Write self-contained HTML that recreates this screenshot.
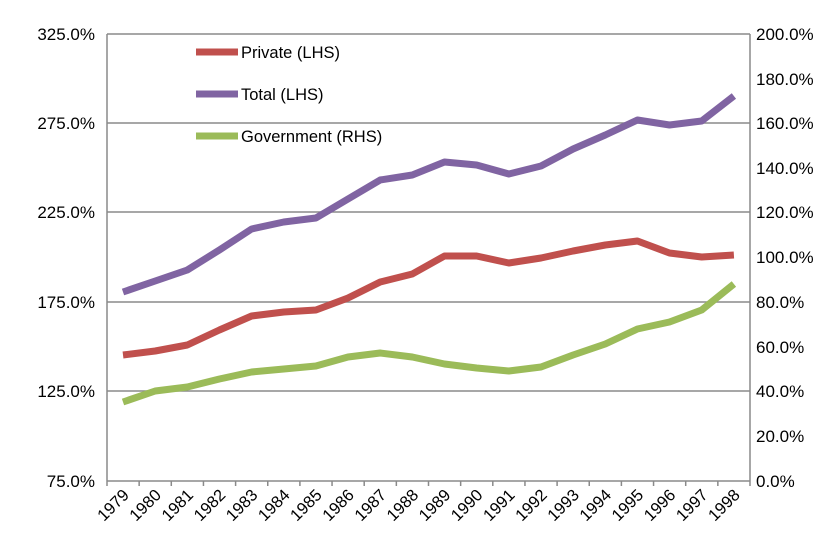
<!DOCTYPE html>
<html><head><style>body{margin:0;background:#fff}svg{display:block}</style></head><body>
<svg width="833" height="545" xmlns="http://www.w3.org/2000/svg" font-family="Liberation Sans, sans-serif" font-size="16.5">
<g stroke="#8a8a8a" stroke-width="1.5">
<line x1="107" y1="34" x2="750" y2="34"/>
<line x1="107" y1="123" x2="750" y2="123"/>
<line x1="107" y1="212" x2="750" y2="212"/>
<line x1="107" y1="302" x2="750" y2="302"/>
<line x1="107" y1="391" x2="750" y2="391"/>
<line x1="107" y1="481" x2="750" y2="481"/>
<line x1="107" y1="34" x2="107" y2="481"/>
<line x1="750" y1="34" x2="750" y2="481"/>
</g>
<g stroke="#8a8a8a" stroke-width="1.5" id="t"></g>
<g text-anchor="end" fill="#000" font-size="17">
<text x="95" y="40">325.0%</text><text x="95" y="129">275.0%</text><text x="95" y="218">225.0%</text><text x="95" y="308">175.0%</text><text x="95" y="397">125.0%</text><text x="95" y="487">75.0%</text>
</g>
<g fill="#000" font-size="17">
<text x="756" y="40">200.0%</text><text x="756" y="85">180.0%</text><text x="756" y="129">160.0%</text><text x="756" y="174">140.0%</text><text x="756" y="218">120.0%</text><text x="756" y="263">100.0%</text><text x="756" y="308">80.0%</text><text x="756" y="353">60.0%</text><text x="756" y="397">40.0%</text><text x="756" y="442">20.0%</text><text x="756" y="487">0.0%</text>
</g>
<g fill="none" stroke-width="7" stroke-linejoin="round" stroke-linecap="butt">
<polyline stroke="#c0504d" id="p"/>
<polyline stroke="#8064a2" id="q"/>
<polyline stroke="#9bbb59" id="r"/>
<line x1="196" y1="52" x2="238" y2="52" stroke="#c0504d"/>
<line x1="196" y1="94" x2="238" y2="94" stroke="#8064a2"/>
<line x1="196" y1="136" x2="238" y2="136" stroke="#9bbb59"/>
</g>
<text x="241" y="58">Private (LHS)</text>
<text x="241" y="100">Total (LHS)</text>
<text x="241" y="142">Government (RHS)</text>
<g id="xl" text-anchor="end" font-size="16.5"></g>
<script>
var P=[355,351,345,330,316,312,310,298,282,274,256,256,263,258,251,245,241,253,257,255];
var T=[292,281,270,250,229,222,218,199,180,175,162,165,174,166,149,135,120,125,121,96];
var G=[402,391,387,379,372,369,366,357,353,357,364,368,371,367,355,344,329,322,310,284];
var s=32.15;function X(i){return 123+i*s;}
function pts(a){return a.map(function(v,i){return X(i).toFixed(1)+','+v}).join(' ');}
document.getElementById('p').setAttribute('points',pts(P));
document.getElementById('q').setAttribute('points',pts(T));
document.getElementById('r').setAttribute('points',pts(G));
var ns='http://www.w3.org/2000/svg',t=document.getElementById('t'),xl=document.getElementById('xl');
for(var i=0;i<=20;i++){var l=document.createElementNS(ns,'line');var x=107+i*s;l.setAttribute('x1',x);l.setAttribute('x2',x);l.setAttribute('y1',481);l.setAttribute('y2',486);t.appendChild(l);}
for(var i=0;i<20;i++){var e=document.createElementNS(ns,'text');var x=X(i)+7,y=496;e.setAttribute('x',x);e.setAttribute('y',y);e.setAttribute('transform','rotate(-45 '+x+' '+y+')');e.textContent=1979+i;xl.appendChild(e);}
</script>
</svg>
</body></html>
